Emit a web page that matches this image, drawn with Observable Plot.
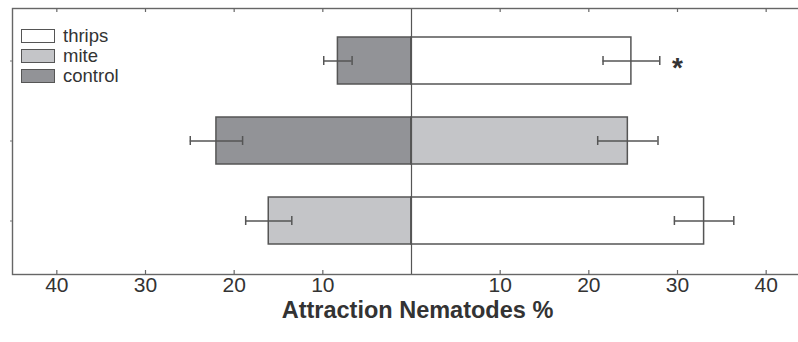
<!DOCTYPE html>
<html>
<head>
<meta charset="utf-8">
<script src="https://cdn.jsdelivr.net/npm/d3@7"></script>
<script src="https://cdn.jsdelivr.net/npm/@observablehq/plot@0.6"></script>
<style>
  html, body { margin: 0; padding: 0; background: #fff; }
  #wrap { position: relative; width: 798px; height: 342px; overflow: hidden; font-family: "Liberation Sans", Arial, sans-serif; }
  #legend { position: absolute; left: 21px; top: 26px; }
  .row { display: flex; align-items: center; height: 20px; }
  .sw { width: 32px; height: 12px; border: 1.5px solid #555; margin-right: 8px; }
  .lab { font-size: 18.5px; color: #333; line-height: 20px; }
  #title { position: absolute; left: 0; width: 835px; top: 297px; text-align: center; font-size: 23.5px; font-weight: bold; color: #333; }
</style>
</head>
<body>
<div id="wrap">
  <div id="chart"></div>
  <div id="legend"></div>
  <div id="title"></div>
</div>
<script>
// Two-choice olfactometer: nematodes choosing between two odour sources per test
const pairs = ["thrips vs control", "mite vs control", "thrips vs mite"];
const leftOdour = ["control", "control", "mite"];
const leftMean = [8.3, 22.0, 16.1];
const leftErr = [1.6, 2.95, 2.6];
const rightOdour = ["thrips", "mite", "thrips"];
const rightMean = [24.8, 24.4, 33.0];
const rightErr = [3.2, 3.4, 3.35];
const significance = ["*", "", ""];
const sigPosition = [30, 30, 30];
const xTicks = [-40, -30, -20, -10, 10, 20, 30, 40];
const odours = ["thrips", "mite", "control"];
const odourFills = ["#ffffff", "#c4c5c8", "#929397"];
const axisTitle = "Attraction Nematodes %";

// Left-hand responses are drawn to the negative side of zero
const rows = [];
pairs.forEach((p, i) => {
  rows.push({pair: p, odour: leftOdour[i], v: -leftMean[i], lo: -(leftMean[i] - leftErr[i]), hi: -(leftMean[i] + leftErr[i])});
  rows.push({pair: p, odour: rightOdour[i], v: rightMean[i], lo: rightMean[i] - rightErr[i], hi: rightMean[i] + rightErr[i]});
});
const sig = pairs.map((p, i) => ({pair: p, text: significance[i], x: sigPosition[i]})).filter(d => d.text);

const H = 342, MT = 8, MB = 68;
const plotH = H - MT - MB;

const chart = Plot.plot({
  width: 798,
  height: H,
  marginTop: MT,
  marginBottom: MB,
  marginLeft: 12,
  marginRight: -12,
  style: {fontFamily: '"Liberation Sans", Arial, sans-serif', color: "#333", background: "transparent"},
  x: {domain: [-45, 45]},
  y: {domain: pairs, paddingInner: 0.407, paddingOuter: 0.3455},
  color: {domain: odours, range: odourFills},
  marks: [
    Plot.barX(rows, {x1: 0, x2: "v", y: "pair", fill: "odour", stroke: "#555", strokeWidth: 1.5}),
    Plot.ruleX([0], {stroke: "#555", strokeWidth: 1.2}),
    Plot.ruleY(rows, {x1: "lo", x2: "hi", y: "pair", stroke: "#555", strokeWidth: 1.5}),
    Plot.tickX(rows, {x: "lo", y: "pair", insetTop: 19, insetBottom: 19, stroke: "#555", strokeWidth: 1.5}),
    Plot.tickX(rows, {x: "hi", y: "pair", insetTop: 19, insetBottom: 19, stroke: "#555", strokeWidth: 1.5}),
    Plot.text(sig, {x: "x", y: "pair", text: "text", fontSize: 28, fontWeight: "bold", fill: "#333", dy: 7}),
    Plot.frame({stroke: "#666", strokeWidth: 1.4}),
    Plot.ruleX(xTicks, {insetBottom: plotH - 4, stroke: "#666", strokeWidth: 1.2}),
    Plot.ruleX(xTicks, {insetTop: plotH - 4, stroke: "#666", strokeWidth: 1.2}),
    Plot.axisX({ticks: xTicks, tickFormat: d => Math.abs(d), tickSize: 0, tickPadding: 3, fontSize: 21, label: null}),
    Plot.axisY({tickSize: 2, tickFormat: () => "", label: null, stroke: "#777"})
  ]
});
document.getElementById("chart").appendChild(chart);

// Legend inside the frame, top-left
const legend = document.getElementById("legend");
odours.forEach((o, i) => {
  const row = document.createElement("div");
  row.className = "row";
  const sw = document.createElement("div");
  sw.className = "sw";
  sw.style.background = odourFills[i];
  const lab = document.createElement("span");
  lab.className = "lab";
  lab.textContent = o;
  row.appendChild(sw);
  row.appendChild(lab);
  legend.appendChild(row);
});
document.getElementById("title").textContent = axisTitle;
</script>
</body>
</html>
